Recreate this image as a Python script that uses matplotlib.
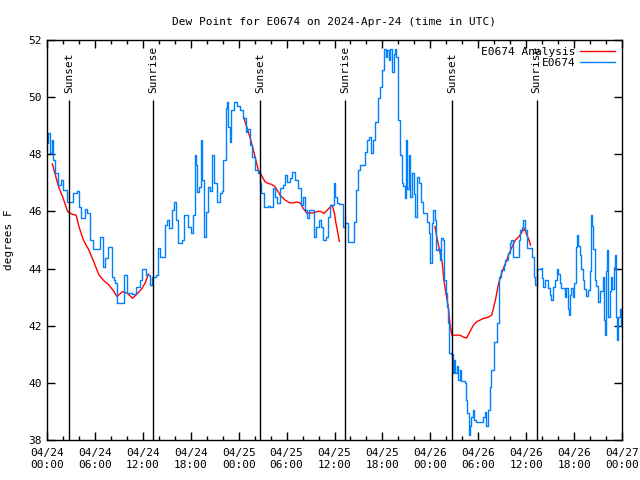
import numpy as np
import matplotlib
matplotlib.use('Agg')
import matplotlib.pyplot as plt

# observed dew point (hours since 2024-04-24 00:00 UTC, deg F)
obs_hours = [0.0, 0.16, 0.38, 0.67, 0.8, 1.0, 1.4, 1.8, 2.0, 2.45, 2.9, 3.2, 3.75, 3.95, 4.25, 4.7, 5.0,
             5.4, 5.8, 6.25, 6.65, 6.95, 7.3, 7.7, 8.1, 8.4, 8.55, 8.75, 9.45, 9.7, 10.0, 10.7, 11.2,
             11.6, 11.95, 12.4, 12.85, 13.2, 13.6, 13.85, 14.2, 14.5, 14.8, 15.0, 15.3, 15.6, 15.85,
             16.1, 16.45, 16.85, 17.2, 17.6, 18.0, 18.25, 18.5, 18.6, 18.8, 19.0, 19.25, 19.4, 19.7,
             19.9, 20.2, 20.4, 20.7, 20.95, 21.25, 21.7, 21.9, 22.1, 22.4, 22.55, 22.7, 22.9, 23.1,
             23.45, 23.75, 24.2, 24.6, 24.9, 25.1, 25.4, 25.7, 26.0, 26.45, 26.65, 26.8, 27.2, 27.7,
             27.9, 28.3, 28.5, 28.85, 29.2, 29.55, 29.85, 30.1, 30.4, 30.7, 31.0, 31.4, 31.75, 32.0,
             32.3, 32.55, 32.85, 33.1, 33.4, 33.7, 34.0, 34.3, 34.6, 34.9, 35.2, 35.4, 35.7, 35.9,
             36.1, 36.3, 36.55, 36.8, 37.1, 37.3, 37.65, 38.15, 38.4, 38.7, 39.0, 39.2, 39.65, 39.8,
             40.1, 40.35, 40.55, 40.85, 41.05, 41.4, 41.7, 42.0, 42.25, 42.4, 42.6, 42.8, 42.9, 43.2,
             43.5, 43.55, 43.75, 43.95, 44.15, 44.4, 44.6, 44.8, 44.95, 45.1, 45.3, 45.5, 45.7, 45.9,
             46.1, 46.35, 46.6, 46.85, 47.05, 47.55, 47.8, 48.0, 48.15, 48.35, 48.55, 48.7, 49.0,
             49.2, 49.35, 49.55, 49.7, 49.9, 50.05, 50.25, 50.4, 50.55, 50.8, 50.95, 51.1, 51.3, 51.5,
             51.7, 51.9, 52.3, 52.5, 52.65, 52.85, 53.0, 53.1, 53.3, 53.5, 53.7, 54.3, 54.6, 54.8,
             55.0, 55.25, 55.45, 55.65, 55.95, 56.35, 56.55, 56.8, 57.2, 57.4, 57.7, 57.95, 58.15,
             58.35, 59.05, 59.25, 59.45, 59.65, 59.85, 60.05, 60.7, 61.0, 61.15, 61.3, 61.85, 62.0,
             62.15, 62.35, 62.75, 62.95, 63.15, 63.35, 63.55, 63.8, 64.0, 64.2, 64.4, 64.8, 65.05,
             65.25, 65.35, 65.5, 65.65, 65.85, 66.05, 66.2, 66.35, 66.5, 66.7, 66.9, 67.1, 67.3, 67.5,
             67.75, 67.95, 68.1, 68.25, 68.4, 68.6, 68.8, 69.0, 69.3, 69.6, 69.75, 69.85, 70.0, 70.15,
             70.3, 70.5, 70.6, 70.8, 70.95, 71.1, 71.2, 71.3, 71.4, 71.55, 71.7, 71.85]
obs_dewpt = [48.4, 48.73, 48.04, 48.5, 47.8, 47.34, 46.93, 47.1, 46.75, 46.34, 46.34, 46.63, 46.7, 46.17, 45.76, 46.07, 45.94,
             45.0, 44.67, 44.67, 45.12, 44.07, 44.36, 44.77, 43.72, 43.6, 43.48, 42.78, 42.78, 43.78, 43.13, 43.1, 43.37,
             43.6, 44.0, 43.78, 43.43, 43.72, 43.78, 44.71, 44.42, 44.42, 45.53, 45.7, 45.41, 46.05, 46.34,
             45.7, 44.88, 45.0, 45.88, 45.47, 45.23, 45.88, 47.97, 47.62, 46.69, 46.87, 48.5, 47.1, 45.12,
             45.99, 46.87, 46.7, 47.97, 46.98, 46.34, 46.63, 46.7, 47.8, 49.61, 49.84, 48.97, 48.44, 49.55,
             49.84, 49.7, 49.55, 49.26, 48.79, 48.9, 48.33, 47.92, 47.45, 47.33, 46.98, 46.63, 46.17, 46.2,
             46.17, 46.81, 46.52, 46.28, 46.81, 46.93, 47.27, 47.04, 47.16, 47.39, 47.1, 46.81, 46.22, 46.5,
             46.05, 45.76, 46.05, 46.05, 45.12, 45.47, 45.7, 45.47, 45.0, 45.12, 45.82, 46.22, 46.22, 46.98,
             46.5, 46.28, 46.25, 46.25, 45.47, 45.6, 44.94, 44.94, 45.64, 46.75, 47.45, 47.62, 47.64, 48.09,
             48.5, 48.62, 48.03, 48.5, 49.14, 49.96, 50.37, 50.95, 51.67, 51.42, 51.65, 51.3, 51.7, 50.89,
             51.5, 51.7, 51.4, 49.2, 47.97, 46.98, 46.9, 46.46, 48.5, 46.8, 47.97, 46.5, 47.33, 46.62,
             45.82, 47.22, 46.98, 46.34, 45.94, 45.64, 45.23, 44.18, 45.58, 46.05, 45.7, 44.65, 44.7,
             44.3, 45.06, 45.0, 43.6, 43.13, 42.66, 42.08, 41.03, 41.0, 40.33, 40.8, 40.33, 40.6, 40.1,
             40.45, 40.05, 40.0, 39.4, 38.93, 38.18, 38.5, 38.8, 39.05, 38.7, 38.62, 38.62, 38.8, 38.99,
             38.5, 39.05, 39.87, 40.45, 41.44, 42.08, 43.72, 43.95, 44.13, 44.3, 44.53, 44.88, 45.0,
             44.42, 45.0, 45.35, 45.47, 45.7, 45.35, 44.71, 44.42, 43.72, 43.43, 44.0, 44.03, 43.66,
             43.37, 43.6, 43.31, 43.08, 42.9, 43.37, 43.6, 44.0, 43.8, 43.5, 43.31, 43.02, 43.31,
             42.6, 42.38, 43.08, 43.31, 43.0, 43.48, 44.77, 45.18, 44.8, 44.48, 44.0, 43.6, 43.3, 43.05,
             43.25, 43.9, 45.88, 45.5, 44.7, 43.6, 43.4, 42.84, 43.2, 43.7, 42.2, 41.67, 43.9, 44.65,
             42.3, 43.2, 43.7, 43.3, 44.07, 44.48, 43.6, 42.3, 41.5, 42.3, 42.6, 42.0]

# analysis (gaps as NaN)
ana_hours = [0.67, 1.45, 1.95, 2.6, 3.2, 3.65, 4.0, 4.55, 5.2, 5.85, 6.5, 7.1, 7.75, 8.4, 8.75, 9.45,
             10.1, 10.7, 11.35, 11.9, 12.3, 12.7, 18.0,
             24.6, 25.0, 25.45, 25.85, 26.15, 26.45, 26.85, 27.3, 27.7, 28.1, 28.55, 29.2, 29.8, 30.4,
             30.85, 31.25, 31.7, 32.1, 32.55, 33.0, 33.4, 33.85, 34.25, 34.7, 35.1, 35.7, 36.0, 36.15,
             36.35, 36.6, 42.0,
             48.58, 48.8, 49.15, 49.5, 49.7, 49.95, 50.25, 50.45, 50.7, 51.1, 51.7, 52.15, 52.55, 52.95,
             53.4, 53.8, 54.7, 55.3, 55.7, 56.15, 56.55, 57.0, 57.4, 57.8, 58.25, 58.65, 59.1, 59.5,
             59.8, 60.05, 60.35, 60.55]
ana_dewpt = [47.66, 46.87, 46.52, 45.99, 45.9, 45.87, 45.47, 45.0, 44.67, 44.24, 43.78, 43.58, 43.43, 43.19, 43.02, 43.19,
             43.13, 42.96, 43.13, 43.31, 43.5, 43.81, np.nan,
             49.32, 48.97, 48.56, 48.15, 47.8, 47.45, 47.27, 47.04, 46.98, 46.95, 46.87, 46.57, 46.4, 46.3,
             46.3, 46.33, 46.3, 46.1, 45.93, 45.95, 45.95, 46.0, 46.0, 45.93, 46.05, 46.22, 45.93, 45.64,
             45.35, 44.95, np.nan,
             45.47, 45.12, 44.65, 44.18, 43.6, 43.13, 42.66, 42.08, 41.67, 41.67, 41.67, 41.6, 41.57, 41.79,
             42.02, 42.14, 42.26, 42.3, 42.38, 42.9, 43.48, 43.9, 44.18, 44.48, 44.77, 45.0, 45.12, 45.29,
             45.4, 45.2, 45.0, 44.82]

sun_hours = [2.75, 13.3, 26.67, 37.35, 50.75, 61.3]
sun_labels = ['Sunset', 'Sunrise', 'Sunset', 'Sunrise', 'Sunset', 'Sunrise']

xtick_hours = list(range(0, 73, 6))
xtick_labels = ['04/24\n00:00', '04/24\n06:00', '04/24\n12:00', '04/24\n18:00',
                '04/25\n00:00', '04/25\n06:00', '04/25\n12:00', '04/25\n18:00',
                '04/26\n00:00', '04/26\n06:00', '04/26\n12:00', '04/26\n18:00',
                '04/27\n00:00']

plt.rcParams['font.family'] = 'DejaVu Sans Mono'
plt.rcParams['font.size'] = 8

fig = plt.figure(figsize=(6.4, 4.8), dpi=100)
ax = fig.add_axes([47 / 640, 40 / 480, 575 / 640, 400 / 480])

ax.plot(ana_hours, ana_dewpt, color='#ff0000', lw=1, label='E0674 Analysis')
ax.plot(obs_hours, obs_dewpt, color='#0080ff', lw=1, drawstyle='steps-post', label='E0674')

for h, lab in zip(sun_hours, sun_labels):
    ax.vlines(h, 38, 49.9, color='black', lw=1)
    ax.text(h, 50.15, lab, rotation=90, ha='center', va='bottom', fontsize=8)

ax.set_xlim(0, 72)
ax.set_ylim(38, 52)
ax.set_xticks(xtick_hours)
ax.set_xticklabels(xtick_labels)
ax.set_xticks(range(0, 73, 2), minor=True)
ax.set_yticks(range(38, 53, 2))
ax.tick_params(which='both', direction='in', top=True, right=True, width=1)
ax.tick_params(which='major', length=6, pad=6)
ax.tick_params(which='minor', length=3)
ax.tick_params(axis='y', pad=4)
for s in ax.spines.values():
    s.set_linewidth(1)

ax.set_title('Dew Point for E0674 on 2024-Apr-24 (time in UTC)', fontsize=8, pad=11)
ax.set_ylabel('degrees F', labelpad=10)

ax.legend(loc='upper right', frameon=False, markerfirst=False, fontsize=8,
          handlelength=3.2, handletextpad=0.4, labelspacing=0.1,
          borderaxespad=0.2)

fig.savefig('out.png', dpi=100)
